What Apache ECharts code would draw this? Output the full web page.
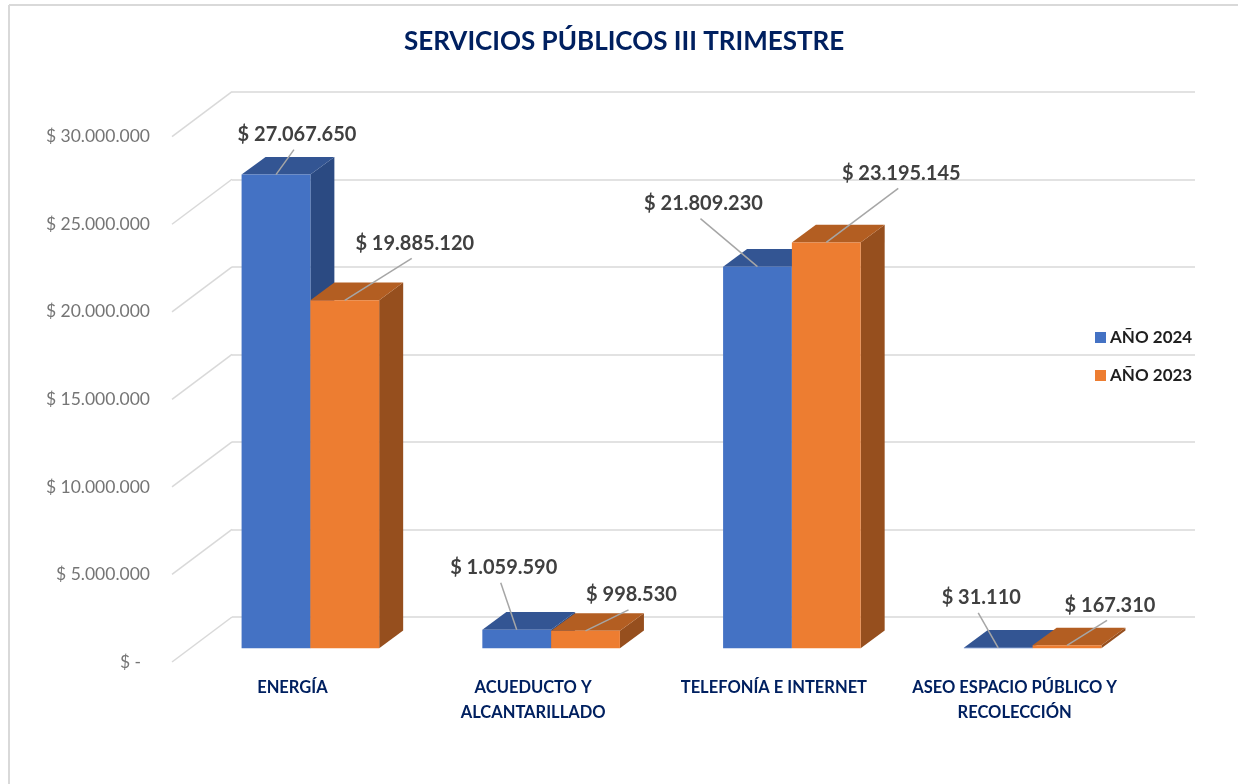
<!DOCTYPE html>
<html><head><meta charset="utf-8">
<style>html,body{margin:0;padding:0;background:#fff}#c{width:1238px;height:784px}</style>
<script src="https://cdn.jsdelivr.net/npm/echarts@6/dist/echarts.min.js"></script>
</head><body><div id="c"></div>
<script>
const titleText = 'SERVICIOS PÚBLICOS III TRIMESTRE';
const categories = ['ENERGÍA', 'ACUEDUCTO Y\nALCANTARILLADO', 'TELEFONÍA E INTERNET', 'ASEO ESPACIO PÚBLICO Y\nRECOLECCIÓN'];
const names = ['AÑO 2024', 'AÑO 2023'];
const values2024 = [27067650, 1059590, 21809230, 31110];
const values2023 = [19885120, 998530, 23195145, 167310];
const yTicks = [0, 5000000, 10000000, 15000000, 20000000, 25000000, 30000000];

// layout only: leader-line end offsets from the top-front edge centre of each bar
const leader2024 = [[18, -25], [-16, -47], [-57, -48], [-20, -35]];
const leader2023 = [[67, -42], [43, -21], [72, -54], [40, -25]];

const fmt = v => '$ ' + String(v).replace(/\B(?=(\d{3})+(?!\d))/g, '.');
const FONT = 'Lato, "Open Sans", sans-serif';
const BAR_DX = 24, BAR_DY = 17.7, WALL_DX = 60, WALL_DY = 45;
const FRONT = {left: 172, top: 136.7, width: 963, height: 525.3};
const BARS  = {left: 190, top: 123.3, width: 963, height: 525};
const WALL  = {left: 232, top: 92, width: 963, height: 525};
const yBase = {type: 'value', min: 0, max: 30000000, interval: 5000000};
const xBase = {type: 'category', data: categories, boundaryGap: true};

function barSeries(idx, name, data, face, top, side) {
  return {
    type: 'custom', name, xAxisIndex: 1, yAxisIndex: 1, z: 3 + idx,
    itemStyle: {color: face},
    data: data.map((v, i) => [i, v]),
    encode: {x: 0, y: 1},
    renderItem(params, api) {
      const band = api.size([1, 0])[0], w = band / 3.5;
      const c = api.coord([api.value(0), api.value(1)]);
      const y0 = api.coord([api.value(0), 0])[1];
      const x0 = c[0] - w + idx * w, x1 = x0 + w, y1 = c[1];
      return {type: 'group', children: [
        {type: 'polygon', shape: {points: [[x1, y1], [x1 + BAR_DX, y1 - BAR_DY], [x1 + BAR_DX, y0 - BAR_DY], [x1, y0]]}, style: {fill: side}},
        {type: 'polygon', shape: {points: [[x0, y1], [x0 + BAR_DX, y1 - BAR_DY], [x1 + BAR_DX, y1 - BAR_DY], [x1, y1]]}, style: {fill: top}},
        {type: 'rect', shape: {x: x0, y: y1, width: w, height: y0 - y1}, style: {fill: face}}
      ]};
    }
  };
}
function labelSeries(idx, data, offs) {
  return {
    type: 'custom', xAxisIndex: 1, yAxisIndex: 1, z: 10, silent: true,
    data: data.map((v, i) => [i, v]),
    encode: {x: 0, y: 1},
    renderItem(params, api) {
      const band = api.size([1, 0])[0], w = band / 3.5, i = api.value(0);
      const c = api.coord([i, api.value(1)]);
      const sx = c[0] - w + idx * w + w / 2, sy = c[1], o = offs[i];
      const ex = sx + o[0], ey = sy + o[1];
      return {type: 'group', children: [
        {type: 'line', shape: {x1: sx, y1: sy, x2: ex, y2: ey}, style: {stroke: '#a6a6a6', lineWidth: 1.5}},
        {type: 'text', style: {text: fmt(api.value(1)), x: ex + 3, y: ey - 15, align: 'center', verticalAlign: 'middle',
          fill: '#404040', font: 'bold 20px ' + FONT}}
      ]};
    }
  };
}
const option = {
  animation: false,
  backgroundColor: '#fff',
  title: {text: titleText, left: 399, top: 24,
    textStyle: {color: '#002060', fontFamily: FONT, fontWeight: 'bold', fontSize: 26}},
  legend: {left: 1090, top: 324, orient: 'vertical', itemWidth: 11, itemHeight: 11, itemGap: 21, icon: 'rect', data: names,
    textStyle: {color: '#1f1f1f', fontFamily: FONT, fontWeight: 'bold', fontSize: 17, padding: [0, 0, 0, -1]}},
  grid: [FRONT, BARS, WALL],
  xAxis: [
    {...xBase, gridIndex: 0, axisLine: {show: false}, axisTick: {show: false},
      axisLabel: {margin: 13, interval: 0, color: '#002060', fontFamily: FONT, fontWeight: 'bold', fontSize: 16.5, lineHeight: 25}},
    {...xBase, gridIndex: 1, show: false},
    {...xBase, gridIndex: 2, show: false}
  ],
  yAxis: [
    {...yBase, gridIndex: 0, axisLine: {show: false}, axisTick: {show: false}, splitLine: {show: false},
      axisLabel: {margin: 22, color: '#757575', fontFamily: FONT, fontSize: 17.5,
        formatter: v => v === 0 ? '$ -  ' : fmt(v)}},
    {...yBase, gridIndex: 1, show: false},
    {...yBase, gridIndex: 2, axisLine: {show: false}, axisTick: {show: false}, axisLabel: {show: false},
      splitLine: {show: true, lineStyle: {color: '#d9d9d9', width: 1.5}}}
  ],
  series: [
    {type: 'custom', xAxisIndex: 0, yAxisIndex: 0, z: 1, silent: true,
      data: yTicks.map(v => [0, v]), encode: {x: 0, y: 1},
      renderItem(params, api) {
        const y = api.coord([0, api.value(1)])[1], x = params.coordSys.x;
        return {type: 'line', shape: {x1: x, y1: y, x2: x + WALL_DX, y2: y - WALL_DY}, style: {stroke: '#d9d9d9', lineWidth: 1.5}};
      }},
    barSeries(0, names[0], values2024, '#4472C4', '#335593', '#2B4A82'),
    barSeries(1, names[1], values2023, '#ED7D31', '#B35E22', '#964F1E'),
    labelSeries(0, values2024, leader2024),
    labelSeries(1, values2023, leader2023)
  ],
  graphic: [
    {type: 'line', shape: {x1: 9, y1: 5, x2: 9, y2: 784}, style: {stroke: '#d9d9d9', lineWidth: 2}, silent: true},
    {type: 'line', shape: {x1: 9, y1: 5, x2: 1238, y2: 5}, style: {stroke: '#d9d9d9', lineWidth: 2}, silent: true}
  ]
};
echarts.init(document.getElementById('c'), null, {renderer: 'canvas'}).setOption(option);
</script></body></html>
